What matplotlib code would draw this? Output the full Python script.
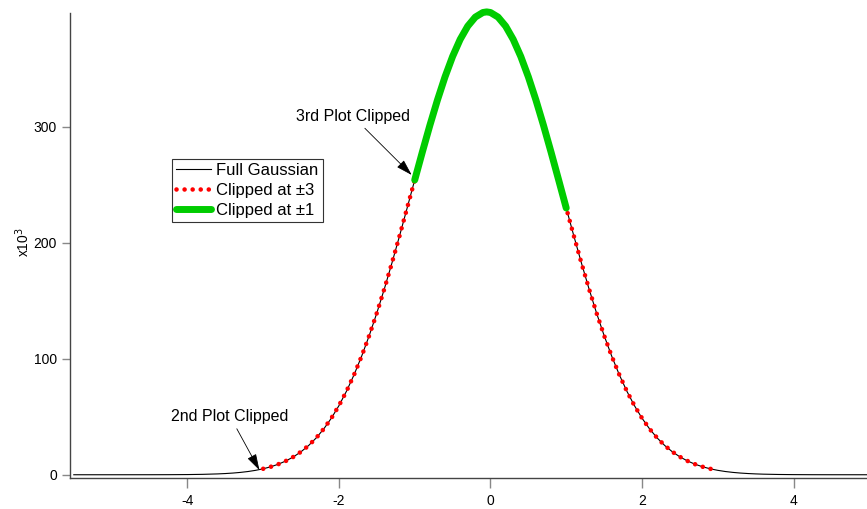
import matplotlib
matplotlib.use("Agg")
import matplotlib.pyplot as plt
import numpy as np

plt.rcParams["font.family"] = ["Liberation Sans", "DejaVu Sans"]
plt.rcParams["axes.unicode_minus"] = False

# Gaussian wave (values in units of 1e3)
x_vals = [
    -5.5, -5.0, -4.5, -4.25, -4.0, -3.8, -3.6,
    -3.5, -3.4, -3.3, -3.2, -3.1, -3.0, -2.9, -2.8, -2.7, -2.6,
    -2.5, -2.4, -2.3, -2.2, -2.1, -2.0, -1.9, -1.8, -1.7, -1.6,
    -1.5, -1.4, -1.3, -1.2, -1.1, -1.0, -0.9, -0.8, -0.7, -0.6,
    -0.5, -0.4, -0.3, -0.2, -0.1, -0.05, 0.0, 0.1, 0.2, 0.3, 0.4,
    0.5, 0.6, 0.7, 0.8, 0.9, 1.0, 1.1, 1.2, 1.3, 1.4,
    1.5, 1.6, 1.7, 1.8, 1.9, 2.0, 2.1, 2.2, 2.3, 2.4,
    2.5, 2.6, 2.7, 2.8, 2.9, 3.0, 3.1, 3.2, 3.3, 3.4, 3.5,
    3.6, 3.8, 4.0, 4.25, 4.5, 5.0,
]
y_vals = [
    0.0001, 0.002, 0.02, 0.059, 0.16, 0.35, 0.73,
    1.04, 1.46, 2.03, 2.79, 3.81, 5.14, 6.87, 9.09, 11.91, 15.45,
    19.84, 25.22, 31.74, 39.55, 48.79, 59.60, 72.06, 86.28, 102.27, 120.01,
    139.43, 160.38, 182.65, 205.94, 229.88, 254.06, 277.99, 301.14, 322.97, 342.94,
    360.53, 375.24, 386.67, 394.48, 398.44, 398.94, 398.44, 394.48, 386.67, 375.24, 360.53,
    342.94, 322.97, 301.14, 277.99, 254.06, 229.88, 205.94, 182.65, 160.38, 139.43,
    120.01, 102.27, 86.28, 72.06, 59.60, 48.79, 39.55, 31.74, 25.22, 19.84,
    15.45, 11.91, 9.09, 6.87, 5.14, 3.81, 2.79, 2.03, 1.46, 1.04, 0.73,
    0.51, 0.24, 0.11, 0.038, 0.013, 0.0013,
]
clip_wide = 3.0
clip_narrow = 1.0
y_ticks = [0, 100, 200, 300]
x_ticks = [-4, -2, 0, 2, 4]

x = np.array(x_vals)
y = np.array(y_vals)
wide = (x >= -clip_wide - 1e-9) & (x <= clip_wide + 1e-9)
narrow = (x >= -clip_narrow - 1e-9) & (x <= clip_narrow + 1e-9)

fig = plt.figure(figsize=(8.67, 5.09), dpi=100)
ax = fig.add_axes([70 / 867, 31 / 509, 1 - 70 / 867, (478 - 13) / 509])

ax.plot(x, y, color="black", lw=0.8, label="Full Gaussian")
ax.plot(x[wide], y[wide], color="red", lw=3.3, linestyle=(0, (0.01, 1.75)),
        dash_capstyle="round", label="Clipped at \u00b13")
ax.plot(x[narrow], y[narrow], color="#00cc00", lw=5.0, solid_capstyle="round",
        clip_on=False, label="Clipped at \u00b11")

ax.set_xlim(-5.55, 4.97)
ax.set_ylim(-2.8, 398.0)
ax.set_xticks(x_ticks)
ax.set_yticks(y_ticks)
ax.tick_params(axis="both", direction="out", color="#888888", labelsize=10, width=1.0)
ax.tick_params(axis="x", length=7, pad=4.5)
ax.tick_params(axis="y", length=6, pad=3.5)
for side in ["top", "right"]:
    ax.spines[side].set_visible(False)
for side in ["left", "bottom"]:
    ax.spines[side].set_color("#444444")
    ax.spines[side].set_linewidth(1.0)

fig.text(23 / 867, 1 - 242 / 509, "x10$^3$", rotation=90, ha="center", va="center", fontsize=10)

arrow = dict(arrowstyle="-|>,head_length=1.0,head_width=0.3", color="black", lw=0.6,
             mutation_scale=10, shrinkB=0)
ax.annotate("3rd Plot Clipped", xy=(-1.04, 258.4), xytext=(-1.82, 309.2),
            ha="center", va="center", fontsize=11.5, arrowprops=arrow)
ax.annotate("2nd Plot Clipped", xy=(-3.05, 4.0), xytext=(-3.44, 50.6),
            ha="center", va="center", fontsize=11.5, arrowprops=arrow)

leg = ax.legend(loc="upper left", bbox_to_anchor=(172 / 867, 1 - 159 / 509),
                bbox_transform=fig.transFigure, borderaxespad=0, fontsize=12,
                fancybox=False, framealpha=1, edgecolor="#333333", borderpad=0.25,
                labelspacing=0.28, handlelength=2.1, handletextpad=0.3)
leg.get_frame().set_linewidth(0.8)

fig.savefig("out.png", dpi=100)
